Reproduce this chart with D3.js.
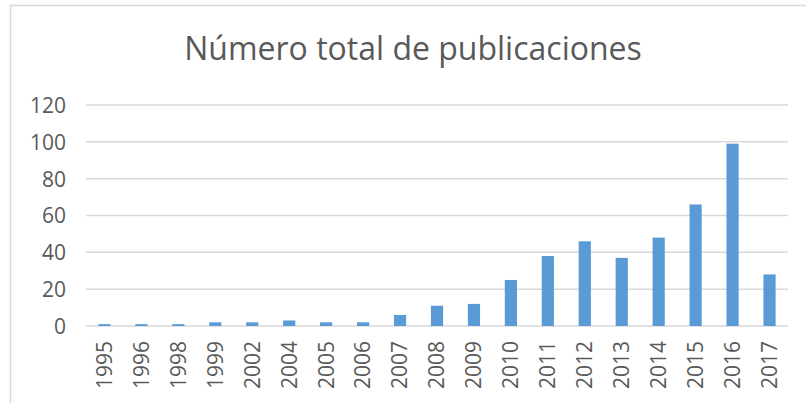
<!DOCTYPE html>
<html><head><meta charset="utf-8">
<script src="https://cdn.jsdelivr.net/npm/d3@7"></script>
<style>body{margin:0;background:#fff}svg{display:block}text{font-family:"Open Sans",sans-serif;fill:#595959}</style>
</head><body>
<svg id="c" width="806" height="403"></svg>
<script>
const years = ["1995","1996","1998","1999","2002","2004","2005","2006","2007","2008","2009","2010","2011","2012","2013","2014","2015","2016","2017"];
const counts = [1,1,1,2,2,3,2,2,6,11,12,25,38,46,37,48,66,99,28];
const yTicks = [0,20,40,60,80,100,120];
const title = "Número total de publicaciones";

const svg = d3.select("#c");
svg.append("rect").attr("x",10.5).attr("y",5.5).attr("width",830).attr("height",430)
  .attr("fill","none").attr("stroke","#d9d9d9").attr("stroke-width",1.5);

const x = d3.scaleBand().domain(years).range([86,788]).paddingInner(0.67).paddingOuter(0.335);
const y = d3.scaleLinear().domain([0,120]).range([326,105]);

const grid = svg.append("g");
grid.selectAll("line").data(yTicks).join("line")
  .attr("x1",86).attr("x2",788).attr("y1",d=>y(d)).attr("y2",d=>y(d))
  .attr("stroke","#d9d9d9").attr("stroke-width",1.5);

svg.append("g").selectAll("rect").data(years).join("rect")
  .attr("x",d=>x(d)).attr("width",x.bandwidth())
  .attr("y",(d,i)=>y(counts[i])).attr("height",(d,i)=>y(0)-y(counts[i]))
  .attr("fill","#5b9bd5");

const yAxis = svg.append("g").attr("transform","translate(66,0)")
  .call(d3.axisLeft(y).tickValues(yTicks).tickSize(0).tickPadding(0));
yAxis.select(".domain").remove();
yAxis.selectAll("text").attr("font-size",21).attr("font-family","Open Sans").attr("fill","#595959").attr("dy","0.35em");

const xAxis = svg.append("g").attr("transform","translate(0,326)")
  .call(d3.axisBottom(x).tickSize(0).tickPadding(0));
xAxis.select(".domain").remove();
xAxis.selectAll("text").attr("font-size",21).attr("font-family","Open Sans").attr("fill","#595959")
  .attr("text-anchor","end").attr("transform","translate(0,15) rotate(-90)").attr("y",0).attr("dy","0.35em");

svg.append("text").attr("x",413).attr("y",60).attr("text-anchor","middle")
  .attr("font-size",32).attr("font-weight",400).text(title);
</script>
</body></html>
